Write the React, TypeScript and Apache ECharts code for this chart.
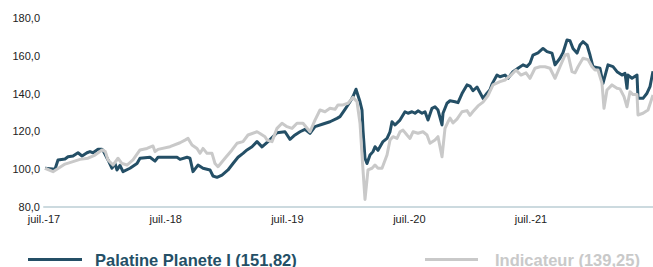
import React, { useEffect, useRef } from "react";
import * as echarts from "echarts";

const palatineName = "Palatine Planete I (151,82)";
const indicateurName = "Indicateur (139,25)";

const palatineDates = [
  "2017-07-04", "2017-08-03", "2017-08-12", "2017-09-02", "2017-09-11", "2017-09-26", "2017-10-11", "2017-10-23",
  "2017-11-07", "2017-11-16", "2017-11-25", "2017-12-10", "2017-12-22", "2017-12-25", "2018-01-09", "2018-01-21",
  "2018-01-30", "2018-02-05", "2018-02-14", "2018-02-23", "2018-03-16", "2018-04-06", "2018-04-15", "2018-05-15",
  "2018-05-30", "2018-06-08", "2018-08-04", "2018-08-13", "2018-09-03", "2018-09-12", "2018-09-21", "2018-10-06",
  "2018-10-21", "2018-11-11", "2018-11-20", "2018-12-02", "2018-12-17", "2019-01-04", "2019-01-19", "2019-02-03",
  "2019-02-18", "2019-03-02", "2019-03-17", "2019-04-01", "2019-04-16", "2019-05-04", "2019-05-31", "2019-06-24",
  "2019-07-09", "2019-07-24", "2019-08-08", "2019-08-23", "2019-09-07", "2019-09-22", "2019-10-16", "2019-11-06",
  "2019-11-27", "2019-12-06", "2019-12-21", "2020-01-05", "2020-01-14", "2020-01-23", "2020-02-04", "2020-02-10",
  "2020-02-13", "2020-02-19", "2020-02-25", "2020-03-05", "2020-03-14", "2020-03-20", "2020-03-29", "2020-04-13",
  "2020-04-25", "2020-05-04", "2020-05-10", "2020-05-19", "2020-06-03", "2020-06-18", "2020-06-27", "2020-07-09",
  "2020-07-18", "2020-07-27", "2020-08-08", "2020-08-17", "2020-08-26", "2020-09-07", "2020-09-16", "2020-09-25",
  "2020-10-07", "2020-10-10", "2020-10-22", "2020-10-31", "2020-11-15", "2020-11-24", "2020-12-06", "2020-12-21",
  "2020-12-30", "2021-01-08", "2021-01-20", "2021-02-07", "2021-02-19", "2021-02-28", "2021-03-06", "2021-03-21",
  "2021-03-30", "2021-04-14", "2021-04-23", "2021-05-08", "2021-05-23", "2021-06-07", "2021-06-19", "2021-06-28",
  "2021-07-07", "2021-07-22", "2021-08-06", "2021-08-18", "2021-09-02", "2021-09-11", "2021-09-26", "2021-10-05",
  "2021-10-17", "2021-10-26", "2021-11-04", "2021-11-16", "2021-11-25", "2021-12-04", "2021-12-16", "2021-12-25",
  "2022-01-03", "2022-01-24", "2022-02-02", "2022-02-17", "2022-03-04", "2022-03-16", "2022-03-31", "2022-04-09",
  "2022-04-15", "2022-04-18", "2022-04-30", "2022-05-15", "2022-05-18", "2022-06-02", "2022-06-14", "2022-06-23",
  "2022-07-02",
];
const palatineValues = [
  100.5, 100.0, 104.9, 105.4, 106.6, 107.0, 108.7, 107.0,
  108.7, 109.3, 108.7, 110.5, 110.5, 110.0, 104.9, 100.5,
  103.0, 99.6, 102.0, 98.7, 100.5, 103.0, 105.8, 106.3,
  104.3, 106.3, 106.3, 105.2, 106.3, 105.8, 98.7, 102.2,
  100.5, 99.6, 96.4, 95.7, 96.9, 99.6, 103.0, 106.3,
  108.4, 110.2, 111.9, 114.6, 111.8, 114.6, 119.3, 119.8,
  115.8, 118.1, 119.8, 121.1, 119.0, 122.5, 123.9, 125.1,
  126.9, 127.8, 131.7, 135.7, 138.4, 142.3, 135.7, 131.3,
  120.7, 105.8, 103.0, 107.5, 109.3, 111.9, 110.0, 114.6,
  116.3, 119.8, 125.1, 123.4, 126.0, 130.4, 129.6, 130.4,
  129.6, 130.9, 129.6, 130.4, 126.0, 132.2, 133.0, 131.3,
  123.4, 129.6, 134.9, 136.2, 135.7, 135.2, 140.0, 144.6,
  144.0, 141.5, 143.5, 137.5, 140.2, 142.0, 145.0, 149.8,
  148.9, 149.8, 148.1, 151.6, 153.4, 155.2, 154.3, 156.1,
  160.4, 161.6, 163.9, 162.2, 161.4, 155.2, 158.7, 161.6,
  168.4, 168.0, 163.9, 161.4, 165.7, 167.5, 165.7, 160.4,
  154.2, 153.4, 145.4, 155.2, 154.3, 151.6, 149.8, 150.7,
  142.8, 149.8, 148.1, 149.8, 137.5, 137.5, 140.2, 143.7,
  151.82,
];

const indicateurDates = [
  "2017-07-04", "2017-07-28", "2017-09-02", "2017-09-26", "2017-10-17", "2017-11-10", "2017-12-01", "2017-12-22",
  "2018-01-01", "2018-01-09", "2018-01-24", "2018-02-08", "2018-02-20", "2018-03-07", "2018-03-25", "2018-04-15",
  "2018-05-06", "2018-05-24", "2018-05-30", "2018-06-08", "2018-07-14", "2018-08-13", "2018-08-28", "2018-09-06",
  "2018-09-18", "2018-10-03", "2018-10-12", "2018-10-21", "2018-11-02", "2018-11-17", "2018-11-26", "2018-12-05",
  "2018-12-26", "2019-01-16", "2019-01-31", "2019-02-18", "2019-03-05", "2019-04-01", "2019-04-10", "2019-04-25",
  "2019-05-01", "2019-05-16", "2019-05-31", "2019-06-15", "2019-06-30", "2019-07-15", "2019-07-30", "2019-08-17",
  "2019-09-07", "2019-09-22", "2019-10-07", "2019-10-22", "2019-11-06", "2019-11-21", "2019-11-30", "2019-12-15",
  "2019-12-30", "2020-01-14", "2020-01-26", "2020-02-04", "2020-02-13", "2020-02-19", "2020-02-28", "2020-03-11",
  "2020-03-20", "2020-03-29", "2020-04-10", "2020-04-25", "2020-05-04", "2020-05-13", "2020-05-25", "2020-06-03",
  "2020-06-12", "2020-06-24", "2020-07-03", "2020-07-12", "2020-07-27", "2020-08-11", "2020-08-23", "2020-09-01",
  "2020-09-16", "2020-09-25", "2020-10-07", "2020-10-16", "2020-10-25", "2020-10-31", "2020-11-09", "2020-11-21",
  "2020-12-06", "2020-12-21", "2020-12-30", "2021-01-08", "2021-01-23", "2021-02-07", "2021-02-22", "2021-03-09",
  "2021-03-30", "2021-04-14", "2021-05-02", "2021-05-17", "2021-06-01", "2021-06-16", "2021-06-28", "2021-07-13",
  "2021-07-28", "2021-08-12", "2021-08-27", "2021-09-11", "2021-09-26", "2021-10-11", "2021-10-20", "2021-11-01",
  "2021-11-10", "2021-11-19", "2021-12-04", "2021-12-19", "2021-12-31", "2022-01-09", "2022-01-18", "2022-01-30",
  "2022-02-05", "2022-02-14", "2022-03-01", "2022-03-16", "2022-03-25", "2022-04-06", "2022-04-15", "2022-04-24",
  "2022-05-03", "2022-05-15", "2022-05-18", "2022-06-02", "2022-06-17", "2022-07-02",
];
const indicateurValues = [
  100.5, 98.7, 102.7, 104.0, 105.2, 105.8, 107.5, 110.2,
  109.3, 104.9, 102.2, 105.8, 103.0, 102.2, 104.9, 110.2,
  111.0, 112.3, 109.3, 110.5, 111.9, 114.0, 115.4, 116.3,
  112.8, 111.0, 108.4, 111.0, 108.4, 108.4, 103.0, 101.3,
  105.8, 110.2, 113.7, 114.6, 118.1, 119.8, 118.9, 117.2,
  115.4, 114.6, 121.6, 124.3, 122.5, 121.6, 124.3, 124.3,
  119.8, 126.0, 131.3, 130.4, 132.2, 131.7, 134.0, 134.0,
  134.9, 138.0, 135.7, 124.3, 99.6, 84.0, 99.6, 100.5,
  102.2, 100.5, 100.5, 107.5, 115.4, 117.2, 116.3, 119.8,
  120.7, 118.1, 116.3, 119.8, 119.0, 119.8, 118.1, 113.7,
  115.4, 117.2, 106.6, 121.6, 125.1, 127.0, 124.5, 126.5,
  130.4, 131.0, 128.5, 130.5, 133.5, 135.5, 139.0, 144.6,
  146.3, 147.2, 149.8, 152.5, 149.8, 151.0, 148.1, 153.4,
  154.2, 154.2, 153.4, 148.1, 154.2, 160.4, 160.8, 151.6,
  151.0, 154.2, 158.7, 158.0, 154.2, 152.5, 152.5, 145.4,
  132.2, 141.9, 144.6, 142.8, 142.5, 138.4, 133.0, 141.0,
  139.5, 139.5, 128.7, 129.6, 131.3, 139.25,
];

const xTickDates = ["2017-07-01", "2018-07-01", "2019-07-01", "2020-07-01", "2021-07-01"];
const yTicks = [80, 100, 120, 140, 160, 180];

const DARK = "#244f66";
const LIGHT = "#c9c9c9";
const FONT = "'Liberation Sans', Arial, Helvetica, sans-serif";

export default function App() {
  const ref = useRef<HTMLDivElement>(null);

  useEffect(() => {
    if (!ref.current) return;
    const chart = echarts.init(ref.current, null, { renderer: "svg" });
    const toTs = (d: string) => new Date(d + "T00:00:00Z").getTime();
    const palData = palatineDates.map((d, i) => [toTs(d), palatineValues[i]]);
    const indData = indicateurDates.map((d, i) => [toTs(d), indicateurValues[i]]);
    const tickTs = xTickDates.map(toTs);

    chart.setOption({
      animation: false,
      textStyle: { fontFamily: FONT },
      grid: { left: 44, right: 0, top: 18, height: 189, containLabel: false },
      xAxis: {
        type: "value",
        min: toTs("2017-07-01"),
        max: toTs("2022-07-02"),
        splitLine: { show: false },
        axisLine: { show: true, onZero: false, lineStyle: { color: "#ccdadf", width: 2 } },
        axisTick: { show: false },
        axisLabel: {
          customValues: tickTs,
          margin: 6,
          fontSize: 11,
          color: "#222",
          fontFamily: FONT,
          formatter: (v: number) => {
            const y = new Date(v).getUTCFullYear();
            return "juil.-" + String(y).slice(2);
          },
        },
      },
      yAxis: {
        type: "value",
        min: yTicks[0],
        max: yTicks[yTicks.length - 1],
        interval: 20,
        axisLine: { show: false },
        axisTick: { show: false },
        splitLine: { show: false },
        axisLabel: {
          margin: 4,
          fontSize: 11,
          color: "#222",
          fontFamily: FONT,
          formatter: (v: number) => v.toFixed(1).replace(".", ","),
        },
      },
      legend: [
        {
          data: [palatineName],
          left: 28,
          top: 251,
          icon: "rect",
          itemWidth: 54,
          itemHeight: 3,
          padding: 0,
          textStyle: {
            fontSize: 16.5,
            fontWeight: "bold",
            color: DARK,
            fontFamily: FONT,
            padding: [0, 0, 0, 8],
          },
        },
        {
          data: [indicateurName],
          left: 425,
          top: 251,
          icon: "rect",
          itemWidth: 53,
          itemHeight: 3,
          padding: 0,
          textStyle: {
            fontSize: 16.5,
            fontWeight: "bold",
            color: LIGHT,
            fontFamily: FONT,
            padding: [0, 0, 0, 12],
          },
        },
      ],
      series: [
        {
          name: palatineName,
          type: "line",
          data: palData,
          showSymbol: false,
          symbol: "none",
          color: DARK,
          lineStyle: { color: DARK, width: 3, join: "round" },
          z: 2,
        },
        {
          name: indicateurName,
          type: "line",
          data: indData,
          showSymbol: false,
          symbol: "none",
          color: LIGHT,
          lineStyle: { color: LIGHT, width: 3, join: "round" },
          z: 3,
        },
      ],
    });
    return () => chart.dispose();
  }, []);

  return (
    <div
      ref={ref}
      style={{ position: "absolute", left: 0, top: 0, width: 653, height: 267, background: "#fff" }}
    />
  );
}
